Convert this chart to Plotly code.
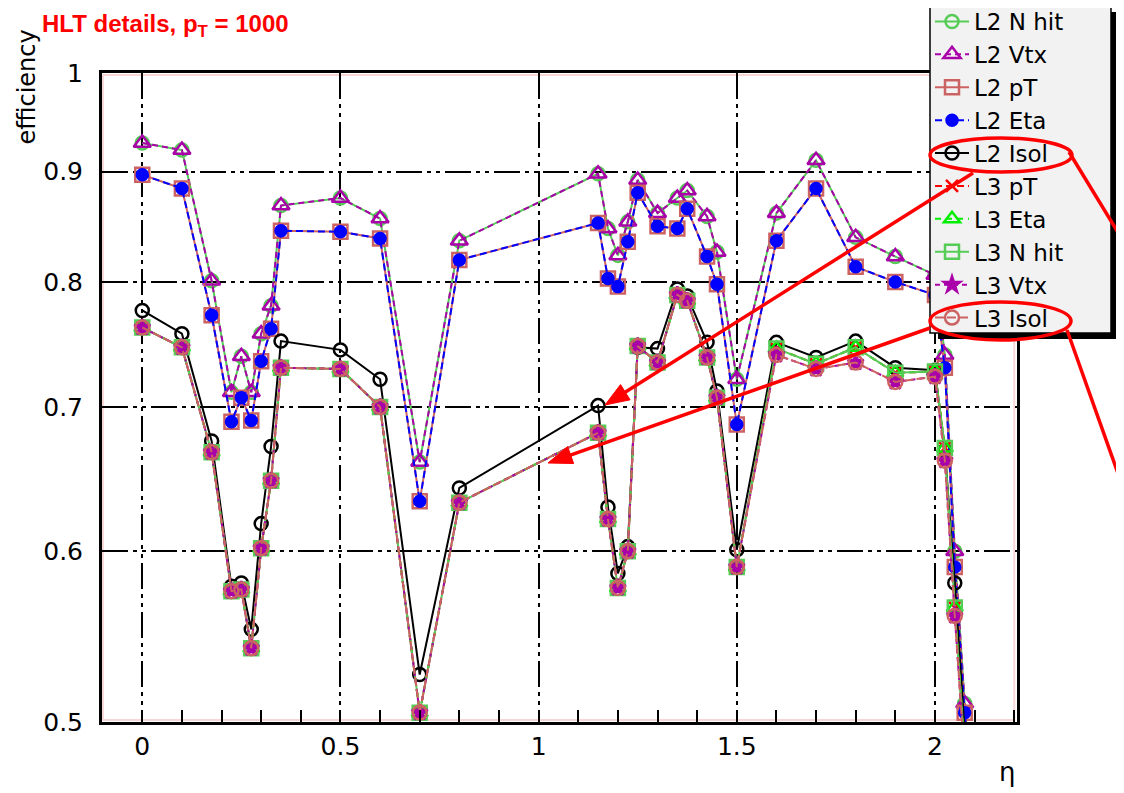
import plotly.graph_objects as go
import math

# ---------------- data ----------------
eta = [0.0, 0.1, 0.175, 0.225, 0.25, 0.275, 0.3, 0.325, 0.35, 0.5, 0.6, 0.7, 0.8,
       1.15, 1.175, 1.2, 1.225, 1.25, 1.3, 1.35, 1.375, 1.425, 1.45, 1.5,
       1.6, 1.7, 1.8, 1.9, 2.0, 2.025, 2.05, 2.075, 2.1]

l2_nhit = [0.928, 0.921, 0.801, 0.711, 0.739, 0.711, 0.757, 0.780, 0.868, 0.875, 0.856, 0.660, 0.836,
           0.898, 0.847, 0.823, 0.853, 0.892, 0.861, 0.875, 0.882, 0.858, 0.826, 0.721,
           0.861, 0.911, 0.839, 0.822, 0.806, 0.740, 0.600, 0.510, 0.450]
l2_vtx = [0.928, 0.921, 0.801, 0.711, 0.739, 0.711, 0.757, 0.780, 0.868, 0.875, 0.856, 0.660, 0.836,
          0.898, 0.847, 0.823, 0.853, 0.892, 0.861, 0.875, 0.882, 0.858, 0.826, 0.721,
          0.861, 0.911, 0.839, 0.822, 0.806, 0.740, 0.600, 0.510, 0.450]
l2_pt = [0.897, 0.884, 0.772, 0.689, 0.707, 0.690, 0.735, 0.761, 0.845, 0.844, 0.838, 0.633, 0.819,
         0.852, 0.803, 0.796, 0.835, 0.880, 0.849, 0.847, 0.865, 0.822, 0.798, 0.687,
         0.836, 0.884, 0.813, 0.800, 0.789, 0.730, 0.590, 0.505, 0.450]
l2_eta = [0.897, 0.884, 0.772, 0.689, 0.707, 0.690, 0.735, 0.761, 0.845, 0.844, 0.838, 0.633, 0.819,
          0.852, 0.803, 0.796, 0.835, 0.880, 0.849, 0.847, 0.865, 0.822, 0.798, 0.687,
          0.836, 0.884, 0.813, 0.800, 0.789, 0.730, 0.590, 0.505, 0.450]
l2_isol = [0.776, 0.757, 0.675, 0.578, 0.580, 0.552, 0.618, 0.671, 0.751, 0.744, 0.721, 0.526, 0.642,
           0.701, 0.629, 0.586, 0.603, 0.746, 0.745, 0.794, 0.788, 0.750, 0.712, 0.601,
           0.750, 0.738, 0.751, 0.730, 0.728, 0.668, 0.580, 0.495, 0.450]
l3_pt = [0.762, 0.746, 0.667, 0.575, 0.576, 0.541, 0.602, 0.647, 0.730, 0.729, 0.700, 0.505, 0.632,
         0.681, 0.621, 0.577, 0.600, 0.747, 0.734, 0.789, 0.784, 0.738, 0.707, 0.590,
         0.745, 0.733, 0.746, 0.726, 0.727, 0.670, 0.565, 0.485, 0.450]
l3_eta = [0.762, 0.746, 0.667, 0.575, 0.576, 0.541, 0.602, 0.647, 0.730, 0.729, 0.700, 0.505, 0.632,
          0.681, 0.621, 0.577, 0.600, 0.747, 0.734, 0.789, 0.784, 0.738, 0.707, 0.590,
          0.745, 0.733, 0.746, 0.726, 0.727, 0.670, 0.565, 0.485, 0.450]
l3_nhit = [0.762, 0.746, 0.667, 0.575, 0.576, 0.541, 0.602, 0.647, 0.730, 0.729, 0.700, 0.505, 0.632,
           0.681, 0.621, 0.577, 0.600, 0.747, 0.734, 0.789, 0.784, 0.738, 0.707, 0.590,
           0.745, 0.733, 0.746, 0.726, 0.727, 0.670, 0.565, 0.485, 0.450]
l3_vtx = [0.762, 0.746, 0.667, 0.575, 0.576, 0.541, 0.602, 0.647, 0.730, 0.729, 0.700, 0.505, 0.632,
          0.681, 0.621, 0.577, 0.600, 0.747, 0.734, 0.789, 0.784, 0.738, 0.707, 0.590,
          0.740, 0.729, 0.734, 0.719, 0.723, 0.661, 0.560, 0.480, 0.450]
l3_isol = [0.762, 0.746, 0.667, 0.575, 0.576, 0.541, 0.602, 0.647, 0.730, 0.729, 0.700, 0.505, 0.632,
           0.681, 0.621, 0.577, 0.600, 0.747, 0.734, 0.789, 0.784, 0.738, 0.707, 0.590,
           0.740, 0.729, 0.734, 0.719, 0.723, 0.661, 0.560, 0.480, 0.450]

series_names = ["L2 N hit", "L2 Vtx", "L2 pT", "L2 Eta", "L2 Isol",
                "L3 pT", "L3 Eta", "L3 N hit", "L3 Vtx", "L3 Isol"]
series_vals = [l2_nhit, l2_vtx, l2_pt, l2_eta, l2_isol,
               l3_pt, l3_eta, l3_nhit, l3_vtx, l3_isol]

x_ticks = [0, 0.5, 1, 1.5, 2]
x_ticktext = ["0", "0.5", "1", "1.5", "2"]
y_ticks = [0.5, 0.6, 0.7, 0.8, 0.9, 1.0]
y_ticktext = ["0.5", "0.6", "0.7", "0.8", "0.9", "1"]

title_text = "<b>HLT details, p<sub>T</sub> = 1000</b>"

# ---------------- styles ----------------
GREEN = "#55cc55"
MAG = "#aa00aa"
ROSY = "#cc6262"
styles = [
    dict(color=GREEN, symbol="circle-open", dash="solid", size=13),
    dict(color=MAG, symbol="triangle-up-open", dash="6px,4px", size=15),
    dict(color=ROSY, symbol="square-open", dash="solid", size=14),
    dict(color="#0000ff", symbol="circle", dash="7px,4px", size=11),
    dict(color="black", symbol="circle-open", dash="solid", size=13),
    dict(color="#ff0000", symbol="x-thin-open", dash="7px,4px", size=12),
    dict(color="#00ee00", symbol="triangle-up-open", dash="6px,5px", size=14),
    dict(color=GREEN, symbol="square-open", dash="solid", size=14),
    dict(color=MAG, symbol="star", dash="5px,4px", size=12),
    dict(color=ROSY, symbol="circle-open", dash="9px,3px", size=14),
]

W, H = 1124, 793
OFF = 8  # page body margin of the browser
# target plot-area edges in screen pixels
L, R, T, B = 102, 1017, 73, 722


def px(xp):
    return (xp - L) / (R - L)


def py(yp):
    return (B - yp) / (B - T)


fig = go.Figure()
for i, (name, vals, st) in enumerate(zip(series_names, series_vals, styles)):
    fig.add_trace(go.Scatter(
        x=eta, y=vals, name=name, mode="lines+markers",
        legendgroup="g%d" % i,
        line=dict(color=st["color"], width=2, dash=st["dash"]),
        marker=dict(symbol=st["symbol"], size=st["size"], color=st["color"],
                    line=dict(color=st["color"], width=2.5)),
    ))

x0 = -0.1016
x1 = 2.207
griddash = "26px,5px,4px,5px,4px,5px"
FONT = "Liberation Sans, Arial, sans-serif"
DFONT = "DejaVu Sans, sans-serif"

fig.update_layout(
    width=W, height=H,
    margin=dict(l=L - OFF, r=W - (R - OFF), t=T - OFF, b=H - (B - OFF), pad=0, autoexpand=False),
    paper_bgcolor="white", plot_bgcolor="white",
    font=dict(family=FONT, color="black"),
    showlegend=True,
    legend=dict(
        x=px(930), y=py(0), xanchor="left", yanchor="top",
        bgcolor="rgba(0,0,0,0)", borderwidth=0,
        font=dict(family=DFONT, size=23, color="black"),
        traceorder="grouped", tracegroupgap=0, itemwidth=34,
    ),
    xaxis=dict(
        range=[x0, x1], tickvals=x_ticks, ticktext=x_ticktext,
        showgrid=True, gridcolor="black", gridwidth=2, griddash=griddash,
        showline=True, linecolor="black", linewidth=3, mirror=True,
        ticks="inside", ticklen=12, tickwidth=2, tickcolor="black",
        minor=dict(dtick=0.1, tick0=0, ticks="inside", ticklen=12, tickwidth=2,
                   tickcolor="black", showgrid=False),
        tickfont=dict(size=25, family=DFONT), ticklabelstandoff=0,
        zeroline=False,
    ),
    yaxis=dict(
        type="log", range=[math.log10(0.5), 0.0],
        tickvals=y_ticks, ticktext=y_ticktext,
        showgrid=True, gridcolor="black", gridwidth=2, griddash=griddash,
        showline=True, linecolor="black", linewidth=3, mirror=True,
        ticks="", tickfont=dict(size=25, family=DFONT), ticklabelstandoff=11,
        zeroline=False,
    ),
)

RED = "#ff0000"
shapes = []
# faint pink inner frame
shapes.append(dict(type="rect", xref="paper", yref="paper", x0=0.001, x1=0.997, y0=0.003, y1=0.997,
                   line=dict(color="#f8d6d6", width=2), layer="below"))
# legend shadow
shapes.append(dict(type="rect", xref="paper", yref="paper",
                   x0=px(938), x1=px(1120), y0=py(339), y1=py(12),
                   fillcolor="black", line=dict(width=0), layer="above"))
# legend box
shapes.append(dict(type="rect", xref="paper", yref="paper",
                   x0=px(930), x1=px(1111), y0=py(333), y1=py(6),
                   fillcolor="#f2f2f2", line=dict(color="black", width=1.5), layer="above"))
# red ellipses
shapes.append(dict(type="circle", xref="paper", yref="paper",
                   x0=px(930), x1=px(1072), y0=py(172), y1=py(138),
                   line=dict(color=RED, width=3.5), layer="above"))
shapes.append(dict(type="circle", xref="paper", yref="paper",
                   x0=px(930), x1=px(1071), y0=py(340), y1=py(302),
                   line=dict(color=RED, width=3.5), layer="above"))
# red lines leaving to the right
shapes.append(dict(type="line", xref="paper", yref="paper",
                   x0=px(1069), y0=py(152), x1=px(1130), y1=py(252),
                   line=dict(color=RED, width=3.5), layer="above"))
shapes.append(dict(type="line", xref="paper", yref="paper",
                   x0=px(1067), y0=py(330), x1=px(1130), y1=py(507),
                   line=dict(color=RED, width=3.5), layer="above"))


def arrow(tail, tip, head_len=24, head_half=9):
    tx, ty = tail
    hx, hy = tip
    dx, dy = hx - tx, hy - ty
    n = math.hypot(dx, dy)
    ux, uy = dx / n, dy / n
    bx, by = hx - ux * head_len, hy - uy * head_len
    nx, ny = -uy, ux
    p1 = (bx + nx * head_half, by + ny * head_half)
    p2 = (bx - nx * head_half, by - ny * head_half)
    line = dict(type="line", xref="paper", yref="paper",
                x0=px(tx), y0=py(ty), x1=px(bx + ux * 4), y1=py(by + uy * 4),
                line=dict(color=RED, width=3.5), layer="above")
    path = "M %f,%f L %f,%f L %f,%f Z" % (px(hx), py(hy), px(p1[0]), py(p1[1]), px(p2[0]), py(p2[1]))
    head = dict(type="path", xref="paper", yref="paper", path=path,
                fillcolor=RED, line=dict(color=RED, width=1), layer="above")
    return [line, head]


shapes += arrow((973, 173), (605, 405))
shapes += arrow((930, 328), (548, 463))
fig.update_layout(shapes=shapes)

annotations = [
    dict(text=title_text, xref="paper", yref="paper", x=px(40), y=py(25),
         xanchor="left", yanchor="middle", showarrow=False,
         font=dict(family=FONT, size=24, color="red")),
    dict(text="efficiency", xref="paper", yref="paper", x=px(27), y=py(28),
         xanchor="center", yanchor="top", textangle=-90, showarrow=False,
         font=dict(family=DFONT, size=24, color="black")),
    dict(text="\u03b7", xref="paper", yref="paper", x=px(1007), y=py(772),
         xanchor="center", yanchor="middle", showarrow=False,
         font=dict(family=DFONT, size=26, color="black")),
]
fig.update_layout(annotations=annotations)

fig.write_html("out.html")
